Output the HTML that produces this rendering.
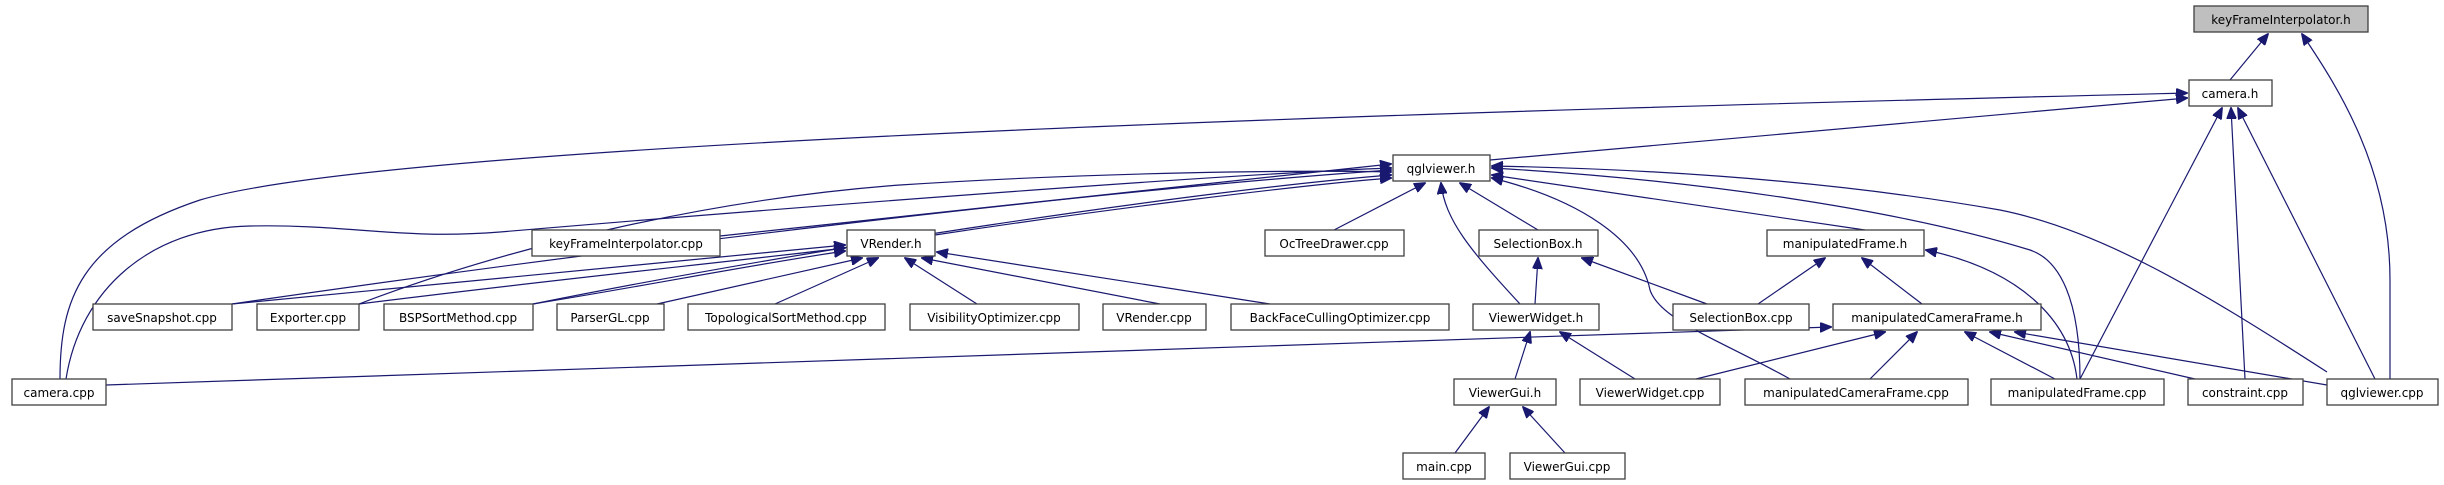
<!DOCTYPE html>
<html><head><meta charset="utf-8"><style>
html,body{margin:0;padding:0;background:#fff}
svg{display:block}
text{font-family:"DejaVu Sans","Liberation Sans",sans-serif;font-size:12px;fill:#000}
.n{fill:#fff;stroke:#404040;stroke-width:1.3}
.e{fill:none;stroke:#191970;stroke-width:1.2}
</style></head><body>
<svg width="2444" height="485" viewBox="0 0 2444 485" xmlns="http://www.w3.org/2000/svg">
<defs><marker id="a" markerWidth="12" markerHeight="10" refX="11" refY="5" orient="auto" markerUnits="userSpaceOnUse"><path d="M0,0 L12,5 L0,10 z" fill="#191970" stroke="#191970"/></marker></defs>
<g class="e" marker-end="url(#a)">
<path d="M2230,80 L2268,34"/>
<path d="M2390,379 L2390,280 C2390,170 2340,90 2302,34"/>
<path d="M60,379 C60,300 80,240 200,200 C400,140 1500,110 2187,93"/>
<path d="M1490,160 L2187,98"/>
<path d="M2080,379 L2222,108"/>
<path d="M2245,379 L2231,108"/>
<path d="M2375,379 L2238,108"/>
<path d="M720,236 L1391,164"/>
<path d="M66,379 C80,290 150,228 250,226 C350,224 400,240 500,232 C700,215 1200,175 1391,168"/>
<path d="M232,304 C600,250 1100,190 1391,170"/>
<path d="M359,304 C500,250 700,200 900,185 C1100,172 1300,170 1391,172"/>
<path d="M533,304 C800,250 1200,190 1391,175"/>
<path d="M935,235 C1100,210 1300,185 1391,178"/>
<path d="M1334,230 L1425,183"/>
<path d="M1520,304 C1470,250 1445,220 1441,183"/>
<path d="M1538,230 L1460,183"/>
<path d="M1790,379 C1720,340 1660,320 1650,290 C1640,240 1580,200 1492,178"/>
<path d="M1865,230 L1492,175"/>
<path d="M2080,379 C2080,300 2060,260 2030,250 C1900,210 1700,180 1492,168"/>
<path d="M2327,372 C2200,290 2100,230 2000,210 C1800,175 1600,168 1492,166"/>
<path d="M232,304 C500,280 700,260 845,245"/>
<path d="M359,304 C550,280 700,265 845,248"/>
<path d="M533,304 C650,285 750,265 845,251"/>
<path d="M657,304 L862,258"/>
<path d="M775,304 L878,258"/>
<path d="M977,304 L905,258"/>
<path d="M1160,304 L922,258"/>
<path d="M1270,304 L937,252"/>
<path d="M1535,304 L1538,258"/>
<path d="M1707,304 L1582,258"/>
<path d="M1758,304 L1825,258"/>
<path d="M1922,304 L1862,258"/>
<path d="M2077,379 C2070,320 2020,270 1926,250"/>
<path d="M106,385 L1831,327"/>
<path d="M1696,379 L1885,332"/>
<path d="M1870,379 L1917,332"/>
<path d="M2055,379 L1965,332"/>
<path d="M2195,379 L1990,332"/>
<path d="M2327,385 L2015,332"/>
<path d="M1515,379 L1530,332"/>
<path d="M1635,379 L1560,332"/>
<path d="M1455,453 L1489,407"/>
<path d="M1565,453 L1523,407"/>
</g>
<g>
<rect x="2194" y="6" width="174" height="26" fill="#bfbfbf" stroke="#404040" stroke-width="1.3"/><text x="2281" y="24" text-anchor="middle">keyFrameInterpolator.h</text>
<rect class="n" x="2189" y="80" width="83" height="26"/><text x="2230" y="98" text-anchor="middle">camera.h</text>
<rect class="n" x="1393" y="155" width="97" height="26"/><text x="1441" y="173" text-anchor="middle">qglviewer.h</text>
<rect class="n" x="532" y="230" width="188" height="26"/><text x="626" y="248" text-anchor="middle">keyFrameInterpolator.cpp</text>
<rect class="n" x="847" y="230" width="88" height="26"/><text x="891" y="248" text-anchor="middle">VRender.h</text>
<rect class="n" x="1265" y="230" width="139" height="26"/><text x="1334" y="248" text-anchor="middle">OcTreeDrawer.cpp</text>
<rect class="n" x="1479" y="230" width="119" height="26"/><text x="1538" y="248" text-anchor="middle">SelectionBox.h</text>
<rect class="n" x="1767" y="230" width="157" height="26"/><text x="1845" y="248" text-anchor="middle">manipulatedFrame.h</text>
<rect class="n" x="93" y="304" width="139" height="26"/><text x="162" y="322" text-anchor="middle">saveSnapshot.cpp</text>
<rect class="n" x="257" y="304" width="102" height="26"/><text x="308" y="322" text-anchor="middle">Exporter.cpp</text>
<rect class="n" x="384" y="304" width="149" height="26"/><text x="458" y="322" text-anchor="middle">BSPSortMethod.cpp</text>
<rect class="n" x="557" y="304" width="107" height="26"/><text x="610" y="322" text-anchor="middle">ParserGL.cpp</text>
<rect class="n" x="688" y="304" width="197" height="26"/><text x="786" y="322" text-anchor="middle">TopologicalSortMethod.cpp</text>
<rect class="n" x="910" y="304" width="169" height="26"/><text x="994" y="322" text-anchor="middle">VisibilityOptimizer.cpp</text>
<rect class="n" x="1103" y="304" width="103" height="26"/><text x="1154" y="322" text-anchor="middle">VRender.cpp</text>
<rect class="n" x="1231" y="304" width="218" height="26"/><text x="1340" y="322" text-anchor="middle">BackFaceCullingOptimizer.cpp</text>
<rect class="n" x="1473" y="304" width="126" height="26"/><text x="1536" y="322" text-anchor="middle">ViewerWidget.h</text>
<rect class="n" x="1673" y="304" width="136" height="26"/><text x="1741" y="322" text-anchor="middle">SelectionBox.cpp</text>
<rect class="n" x="1833" y="304" width="208" height="26"/><text x="1937" y="322" text-anchor="middle">manipulatedCameraFrame.h</text>
<rect class="n" x="12" y="379" width="94" height="26"/><text x="59" y="397" text-anchor="middle">camera.cpp</text>
<rect class="n" x="1454" y="379" width="102" height="26"/><text x="1505" y="397" text-anchor="middle">ViewerGui.h</text>
<rect class="n" x="1580" y="379" width="140" height="26"/><text x="1650" y="397" text-anchor="middle">ViewerWidget.cpp</text>
<rect class="n" x="1745" y="379" width="223" height="26"/><text x="1856" y="397" text-anchor="middle">manipulatedCameraFrame.cpp</text>
<rect class="n" x="1991" y="379" width="173" height="26"/><text x="2077" y="397" text-anchor="middle">manipulatedFrame.cpp</text>
<rect class="n" x="2188" y="379" width="115" height="26"/><text x="2245" y="397" text-anchor="middle">constraint.cpp</text>
<rect class="n" x="2327" y="379" width="111" height="26"/><text x="2382" y="397" text-anchor="middle">qglviewer.cpp</text>
<rect class="n" x="1403" y="453" width="82" height="26"/><text x="1444" y="471" text-anchor="middle">main.cpp</text>
<rect class="n" x="1510" y="453" width="115" height="26"/><text x="1567" y="471" text-anchor="middle">ViewerGui.cpp</text>
</g>
</svg>
</body></html>
